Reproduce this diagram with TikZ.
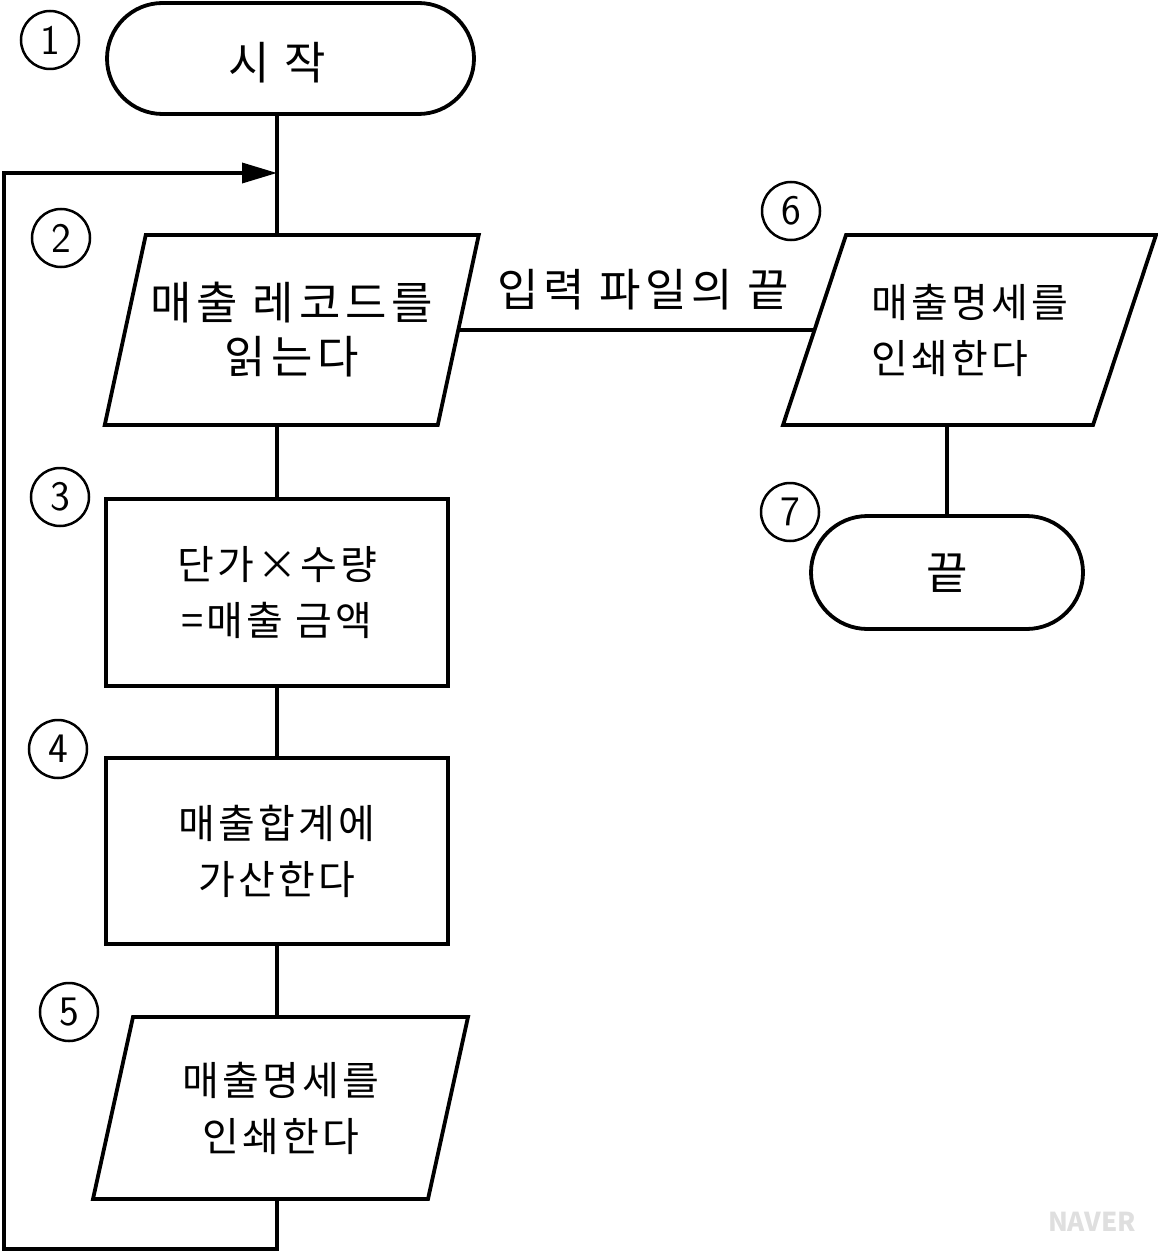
\documentclass[tikz,border=0pt]{standalone}
\usepackage{fontspec}
\setmainfont{Noto Sans CJK KR}
\usetikzlibrary{shapes.misc,arrows.meta}
\newcommand\drawpara[2]{\draw[shp] ([xshift=#2]#1.north west) -- ([xshift=#2]#1.north east) -- ([xshift=-#2]#1.south east) -- ([xshift=-#2]#1.south west) -- cycle;}
\begin{document}
\begin{tikzpicture}[x=1pt,y=1pt,
  shp/.style={draw=black, line width=3.8pt},
  conn/.style={draw=black, line width=3.6pt},
  term/.style={shp, rounded rectangle, inner sep=0pt, outer sep=0pt},
  boxn/.style={shp, rectangle, inner sep=0pt, outer sep=0pt, align=center, font=\fontsize{40}{56}\selectfont\addfontfeatures{LetterSpace=8}},
  paran/.style={rectangle, inner sep=0pt, outer sep=0pt, align=center, font=\fontsize{40}{56}\selectfont\addfontfeatures{LetterSpace=8}},
  num/.style={circle, draw=black, line width=2.5pt, minimum size=58pt, inner sep=0pt, font=\fontsize{42}{42}\selectfont\sffamily},
  lbl/.style={inner sep=0pt, font=\fontsize{45}{45}\selectfont\addfontfeatures{LetterSpace=10}}]
\useasboundingbox (0,0) rectangle (1157,-1252);

% terminals
\node[term, minimum width=367pt, minimum height=111pt] (t1) at (290.5,-58.5) {};
\node[lbl] (t1txt) at (277,-63) {시 작};
\node[term, minimum width=272pt, minimum height=113pt] (t7) at (947,-572.5) {};
\node[lbl] (t7txt) at (947,-573) {끝};

% parallelograms
\node[paran, minimum width=333pt, minimum height=190pt, font=\fontsize{45}{54}\selectfont\addfontfeatures{LetterSpace=11}] (p2) at (291.75,-330) {매출 레코드를\\읽는다};
\drawpara{p2}{20.5pt}
\node[paran, minimum width=335pt, minimum height=182pt] (p5) at (280.5,-1108) {매출명세를\\인쇄한다};
\drawpara{p5}{20pt}
\node[paran, minimum width=310pt, minimum height=190pt, align=left] (p6) at (969.5,-330) {매출명세를\\인쇄한다};
\drawpara{p6}{31.5pt}

% process boxes
\node[boxn, minimum width=342pt, minimum height=187pt] (r3) at (277,-592.5) {단가×수량\\=매출 금액};
\node[boxn, minimum width=342pt, minimum height=186pt] (r4) at (277,-851) {매출합계에\\가산한다};

% numbers
\node[num] (c1) at (50,-40) {1};
\node[num] (c2) at (61,-238) {2};
\node[num] (c3) at (60,-497) {3};
\node[num] (c4) at (58,-749) {4};
\node[num] (c5) at (69,-1012) {5};
\node[num] (c6) at (791,-211) {6};
\node[num] (c7) at (790,-512) {7};

% connectors
\coordinate (j) at (277,-173);
\coordinate (lb) at (277,-1249);
\coordinate (lb2) at (4,-1249);
\coordinate (lt) at (4,-173);
\draw[conn] (t1.south -| j) -- (j |- p2.north);
\draw[conn] (j |- p2.south) -- (j |- r3.north);
\draw[conn] (r3.south) -- (r4.north);
\draw[conn] (r4.south) -- (j |- p5.north);
\draw[conn, -{Triangle[length=35pt,width=20pt]}] (j |- p5.south) -- (lb) -- (lb2) -- (lt) -- (j);
\draw[conn] (p2.east) -- (p6.west);
\node[lbl] (lab) at (643,-290) {입력 파일의 끝};
\draw[conn] (t7.north) -- (t7.north |- p6.south);

\node[font=\fontsize{26}{26}\selectfont\bfseries, text=gray!25, inner sep=0pt] (wm) at (1092,-1222) {NAVER};
\end{tikzpicture}
\end{document}
